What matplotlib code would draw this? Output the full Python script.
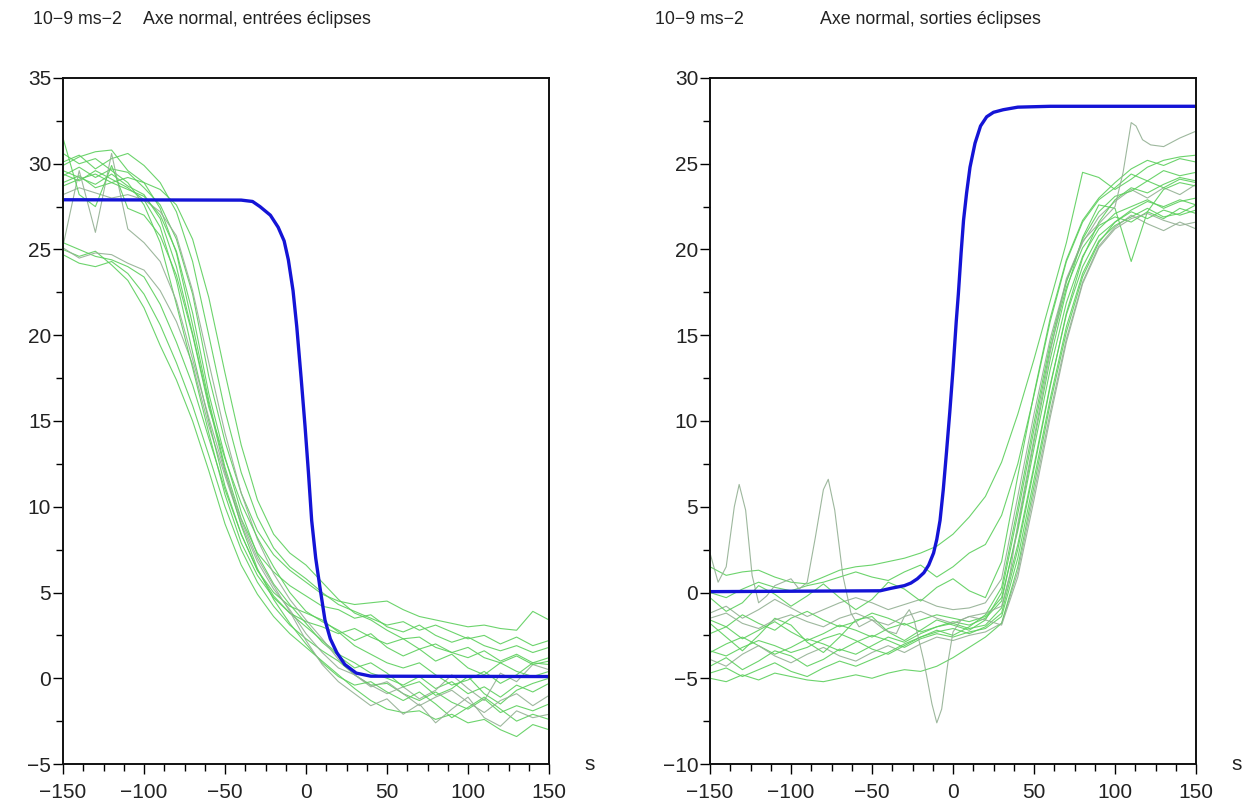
import matplotlib
matplotlib.use("Agg")
import matplotlib.pyplot as plt
from matplotlib.ticker import MultipleLocator

plt.rcParams['font.family'] = ['Liberation Sans', 'DejaVu Sans']

# ---------------- data ----------------
time_s = [-150, -140, -130, -120, -110, -100, -90, -80, -70, -60, -50, -40, -30, -20, -10,
          0, 10, 20, 30, 40, 50, 60, 70, 80, 90, 100, 110, 120, 130, 140, 150]

# Left panel: normal axis, eclipse entries (green measured curves)
left_la = [25.0, 24.6, 24.9, 24.1, 23.2, 21.6, 19.4, 17.4, 15.0, 12.1, 9.0, 6.6, 4.9, 3.6, 2.6,
           1.8, 1.0, 0.2, -0.6, -1.3, -1.8, -2.0, -1.9, -2.4, -2.1, -2.6, -2.4, -3.0, -3.4, -2.7, -3.0]
left_lb = [24.7, 24.2, 24.0, 24.3, 23.6, 22.4, 20.6, 18.4, 15.9, 13.0, 10.0, 7.5, 5.6, 4.2, 3.1,
           2.3, 1.6, 1.0, 0.2, -0.4, -0.3, -0.9, -1.3, -0.8, -1.4, -1.8, -1.2, -2.0, -1.6, -1.9, -1.5]
left_lc = [25.4, 25.0, 24.6, 24.4, 24.0, 23.4, 21.8, 19.6, 17.1, 14.0, 11.0, 8.4, 6.3, 4.8, 3.8,
           3.0, 2.2, 1.4, 0.9, 0.3, 0.0, -0.4, 0.1, -0.6, -0.2, -0.9, -0.5, -1.1, -0.4, -0.8, -0.3]
left_ld = [25.1, 24.5, 24.8, 24.7, 24.2, 23.8, 22.6, 20.8, 18.3, 14.7, 11.8, 9.0, 6.8, 5.2, 4.0,
           2.6, 1.5, 0.6, 0.2, -0.4, -0.9, -0.5, -1.2, -0.7, 0.2, -0.6, -1.3, 0.3, -0.2, 0.8, 0.5]
left_u1 = [30.6, 30.0, 30.3, 29.6, 28.9, 27.6, 25.4, 21.8, 18.1, 14.3, 10.7, 7.9, 6.0, 4.7, 3.8,
           3.3, 3.0, 2.6, 2.9, 2.4, 2.0, 2.3, 1.7, 2.0, 1.5, 1.2, 1.6, 1.0, 1.4, 0.9, 1.2]
left_u2 = [29.4, 29.0, 29.6, 29.1, 28.6, 27.9, 26.3, 23.2, 19.0, 15.0, 11.2, 8.4, 6.3, 5.0, 4.2,
           3.8, 3.4, 2.7, 1.9, 1.4, 0.9, 0.6, 0.9, 0.2, -0.4, -0.1, 0.4, -0.3, 0.2, 0.9, 0.8]
left_u3 = [29.9, 30.4, 30.7, 30.8, 29.6, 28.9, 27.4, 24.8, 20.6, 16.2, 12.3, 9.3, 7.3, 6.2, 5.4,
           4.8, 4.2, 4.0, 3.5, 3.7, 3.0, 2.7, 3.1, 2.5, 2.1, 2.4, 1.9, 1.6, 1.9, 1.5, 1.8]
left_u4 = [28.9, 29.3, 28.6, 28.9, 28.5, 28.1, 27.0, 24.9, 21.3, 16.6, 12.9, 9.7, 7.2, 5.5, 4.3,
           3.2, 2.1, 1.3, 0.6, 0.9, 0.3, -0.5, -0.2, -1.0, -0.6, 0.1, -0.9, -1.5, -0.7, -0.3, 0.0]
left_u5 = [29.3, 29.8, 29.2, 29.7, 29.5, 28.6, 27.6, 25.6, 22.4, 17.6, 13.8, 10.8, 8.6, 7.2, 6.3,
           5.6, 4.9, 4.5, 4.3, 4.4, 4.5, 4.0, 3.6, 3.4, 3.2, 3.0, 3.1, 2.9, 2.8, 3.9, 3.4]
left_u6 = [28.2, 28.6, 28.3, 28.0, 28.2, 27.9, 27.2, 25.8, 22.6, 18.4, 14.3, 10.8, 8.1, 6.1, 4.6,
           3.4, 2.3, 1.1, 0.2, -0.5, -0.2, -0.9, -1.6, -1.1, -0.7, -1.4, -2.0, -1.3, -0.9, -1.6, -1.0]
left_u7 = [30.1, 30.5, 29.7, 30.3, 30.6, 29.9, 28.9, 27.2, 24.3, 20.0, 15.6, 12.0, 9.4, 7.6, 6.5,
           5.8, 5.0, 4.3, 3.9, 3.5, 3.1, 3.3, 2.8, 3.1, 2.7, 2.3, 2.5, 2.0, 2.4, 1.9, 2.2]
left_u8 = [28.7, 29.1, 29.4, 28.9, 29.2, 28.9, 28.5, 27.6, 25.6, 22.2, 17.8, 13.6, 10.4, 8.4, 7.3,
           6.6, 5.6, 4.6, 3.8, 3.4, 2.8, 2.3, 2.4, 1.8, 1.5, 1.8, 1.2, 0.9, 1.3, 0.8, 1.0]
left_u9 = [29.6, 29.2, 28.8, 29.4, 28.7, 28.2, 26.8, 24.0, 20.1, 16.0, 12.1, 8.9, 6.4, 4.6, 3.2,
           2.0, 0.9, 0.1, -0.4, -0.2, -0.8, -1.3, -0.8, -1.5, -2.3, -1.7, -1.1, -1.8, -2.5, -2.1, -2.4]
left_o1 = [25.2, 29.6, 26.0, 30.6, 26.2, 25.4, 24.3, 22.0, 18.6, 15.2, 12.0, 9.2, 7.0, 5.4, 3.9,
           2.2, 0.8, -0.2, -0.9, -1.6, -1.2, -2.1, -1.5, -2.6, -1.8, -1.1, -2.3, -2.8, -1.9, -2.3, -2.1]
left_o2 = [31.5, 28.2, 27.5, 29.9, 27.4, 27.0, 25.8, 23.5, 20.0, 15.8, 12.8, 10.2, 8.2, 6.5, 5.0,
           3.9, 3.3, 2.8, 2.2, 2.6, 1.8, 1.3, 1.7, 1.0, 1.4, 0.6, 0.2, 0.9, 0.4, 0.1, 0.4]

# Left panel model (blue)
left_model_t = [-150, -40, -33, -28.4, -22, -17.2, -13.5, -10.9, -8, -5.7, -3, -0.6, 1.5, 3.5,
                6, 8.6, 11.7, 15, 19, 24, 31, 40, 150]
left_model_v = [27.9, 27.88, 27.8, 27.5, 27.0, 26.3, 25.5, 24.4, 22.6, 20.5, 17.5, 14.7, 12.0, 9.2,
                7.0, 5.3, 3.4, 2.3, 1.5, 0.8, 0.3, 0.12, 0.1]

# Right panel: normal axis, eclipse exits (green measured curves)
right_r01 = [1.5, 1.0, 1.2, 1.3, 0.9, 0.6, 0.5, 0.9, 1.3, 1.5, 1.6, 1.8, 2.0, 2.3, 2.7,
             3.4, 4.4, 5.6, 7.6, 10.4, 13.6, 17.0, 20.4, 24.5, 24.2, 23.5, 24.1, 24.8, 25.2, 25.4, 25.5]
right_r02 = [0.0, -0.3, 0.2, 0.6, 0.3, 0.1, 0.4, 0.6, 0.9, 1.2, 0.9, 0.7, 1.2, 1.6, 0.9,
             1.5, 2.3, 2.8, 4.5, 7.5, 11.5, 15.8, 19.3, 21.6, 22.9, 23.6, 24.4, 24.0, 24.6, 24.3, 24.5]
right_r03 = [-1.2, -0.8, -1.5, -1.0, -0.4, -0.9, -1.4, -1.0, -0.6, -0.3, -0.6, -1.0, -0.7, -0.4, -0.8,
             -1.0, -0.9, -0.6, 0.8, 5.6, 10.4, 14.8, 18.2, 20.4, 21.9, 22.8, 23.5, 23.0, 23.6, 23.2, 23.8]
right_r04 = [-1.6, -2.0, -1.3, -1.8, -2.2, -1.5, -1.1, -1.6, -2.0, -1.7, -1.2, -1.5, -1.9, -1.6, -1.3,
             -1.5, -1.7, -1.4, -0.3, 3.6, 8.4, 13.0, 16.9, 19.6, 21.2, 22.1, 22.5, 22.9, 22.4, 22.8, 23.0]
right_r05 = [-2.4, -2.0, -2.7, -2.2, -1.7, -2.3, -2.8, -2.4, -1.9, -2.2, -2.6, -2.1, -1.8, -2.3, -2.0,
             -1.8, -2.1, -1.9, -0.9, 2.8, 7.4, 12.1, 16.2, 19.0, 20.8, 21.6, 22.2, 21.8, 22.3, 22.0, 22.3]
right_r06 = [-3.5, -3.0, -2.6, -3.1, -3.6, -3.2, -2.7, -3.0, -3.4, -2.9, -2.5, -2.8, -3.2, -2.7, -2.4,
             -2.6, -2.3, -2.1, -1.4, 2.0, 6.6, 11.3, 15.5, 18.6, 20.5, 21.4, 21.9, 22.4, 21.9, 22.1, 22.6]
right_r07 = [-3.9, -4.3, -3.6, -3.1, -3.7, -4.1, -3.6, -3.2, -3.7, -4.0, -3.5, -3.1, -3.5, -3.0, -2.6,
             -2.8, -2.5, -2.3, -1.8, 1.2, 5.8, 10.5, 14.8, 18.1, 20.2, 21.3, 22.0, 21.5, 21.1, 21.6, 21.2]
right_r08 = [-4.7, -4.4, -4.9, -4.5, -4.1, -4.6, -4.9, -4.4, -4.0, -4.3, -3.9, -3.5, -3.0, -2.6, -2.3,
             -2.1, -2.4, -2.0, -1.2, 2.5, 7.2, 12.0, 16.3, 19.5, 21.6, 22.9, 23.6, 23.3, 23.8, 24.2, 24.0]
right_r09 = [-5.0, -5.2, -4.8, -5.1, -4.7, -4.9, -5.1, -5.2, -5.0, -4.8, -5.0, -4.7, -4.5, -4.6, -4.3,
             -3.8, -3.2, -2.6, -1.8, 1.5, 6.2, 11.0, 15.2, 18.4, 20.4, 21.6, 22.3, 22.8, 22.5, 22.9, 22.6]
right_r10 = [-0.3, -1.1, -0.6, 0.4, -0.1, -0.8, -0.2, 0.5, -0.3, -1.0, -0.4, 0.6, 0.2, -0.5, 0.3,
             0.8, 0.1, -0.3, 1.8, 6.8, 11.6, 16.0, 19.4, 21.7, 23.0, 23.9, 24.7, 25.2, 24.9, 25.3, 25.1]
right_r11 = [-1.8, -2.6, -3.4, -2.5, -1.5, -1.9, -2.9, -3.5, -2.6, -1.6, -1.4, -2.3, -2.8, -2.2, -1.6,
             -1.9, -2.2, -1.6, 0.0, 4.6, 9.5, 14.2, 17.8, 20.1, 21.4, 21.9, 21.6, 22.2, 21.8, 22.4, 22.1]
right_r12 = [-4.3, -3.8, -4.5, -4.0, -3.4, -3.7, -4.3, -3.9, -3.3, -3.6, -3.1, -2.6, -2.9, -2.4, -2.0,
             -1.7, -1.9, -1.5, -0.5, 3.8, 8.8, 13.6, 17.6, 20.7, 22.6, 22.4, 19.3, 22.2, 23.5, 23.9, 23.7]
right_r13 = [-1.5, -1.2, -1.8, -2.1, -1.6, -1.3, -1.7, -2.0, -1.5, -1.2, -1.6, -1.9, -1.4, -1.1, -1.5,
             -1.8, -1.4, -1.6, -1.9, 0.9, 5.4, 10.2, 14.6, 18.0, 20.1, 21.2, 21.8, 22.1, 21.7, 21.4, 21.6]
right_r14 = [-3.4, -3.7, -3.2, -2.8, -3.1, -3.5, -3.2, -2.7, -2.4, -2.8, -3.3, -3.6, -3.1, -2.6, -2.2,
             -2.5, -2.0, -1.3, 0.3, 5.0, 9.9, 14.5, 18.1, 20.6, 22.2, 23.1, 23.4, 24.0, 23.6, 24.1, 23.9]

# Right panel: the strongly oscillating curve (own time samples)
right_osc_t = [-150, -145, -140, -135, -132, -128, -124, -120, -115, -110, -100, -95, -90, -85, -80,
               -77, -73, -68, -63, -58, -50, -42, -35, -30, -27, -24, -18, -13, -10, -7, -3, 0,
               5, 10, 20, 30, 35, 40, 50, 60, 70, 80, 90, 100, 105, 110, 113, 117, 122, 130, 140, 150]
right_osc_v = [2.3, 0.6, 1.5, 5.0, 6.3, 4.8, 1.0, -0.6, -0.2, 0.4, 0.8, 0.2, 0.6, 3.2, 6.0,
               6.6, 4.8, 1.0, -1.2, -2.0, -1.6, -2.2, -2.4, -1.4, -1.0, -1.6, -4.0, -6.5, -7.6, -6.8, -4.0, -2.3,
               -1.6, -1.4, -1.2, -0.8, 1.0, 4.0, 9.0, 14.0, 18.3, 20.5, 21.5, 22.5, 24.5, 27.4, 27.2, 26.4, 26.1, 26.0, 26.5, 26.9]

# Right panel model (blue)
right_model_t = [-150, -45, -38, -30, -26, -22, -18, -15, -12, -10, -8, -6, -4, -2, 0, 2, 3.3,
                 5, 6.5, 8.4, 10.5, 13.6, 17, 20.8, 25, 31, 40, 60, 150]
right_model_v = [0.05, 0.1, 0.25, 0.4, 0.55, 0.8, 1.15, 1.6, 2.3, 3.1, 4.2, 6.0, 8.2, 10.5, 13.0,
                 15.8, 17.4, 19.8, 21.7, 23.3, 24.8, 26.2, 27.2, 27.74, 28.0, 28.15, 28.3, 28.35, 28.35]

left_curves = [left_la, left_lb, left_lc, left_ld, left_u1, left_u2, left_u3, left_u4,
               left_u5, left_u6, left_u7, left_u8, left_u9, left_o1, left_o2]
right_curves = [right_r01, right_r02, right_r03, right_r04, right_r05, right_r06, right_r07,
                right_r08, right_r09, right_r10, right_r11, right_r12, right_r13, right_r14]

unit_label = "10\u22129 ms\u22122"
left_title = "Axe normal, entrées éclipses"
right_title = "Axe normal, sorties éclipses"

# ---------------- drawing ----------------
W, H = 1243, 806
fig = plt.figure(figsize=(W / 100, H / 100), dpi=100)

green = '#5ccf5c'
grey_green = '#93b093'
blue = '#1414d6'
fs_tick = 15
fs_title = 12.8


def style_axes(ax, ylim):
    ax.set_xlim(-150, 150)
    ax.set_ylim(*ylim)
    ax.xaxis.set_major_locator(MultipleLocator(50))
    ax.xaxis.set_minor_locator(MultipleLocator(12.5))
    ax.yaxis.set_major_locator(MultipleLocator(5))
    ax.yaxis.set_minor_locator(MultipleLocator(2.5))
    ax.tick_params(which='both', direction='out', top=False, right=False, width=1.0,
                   color='black', labelsize=fs_tick, labelcolor='#222222')
    ax.tick_params(which='major', length=7)
    ax.tick_params(which='minor', length=5)
    ax.tick_params(axis='x', which='major', pad=7)
    ax.tick_params(axis='y', which='major', pad=1.5)
    for sp in ax.spines.values():
        sp.set_linewidth(1.4)
        sp.set_color('#111111')


ax1 = fig.add_axes([63 / W, 1 - 764 / H, 486 / W, 686 / H])
ax2 = fig.add_axes([710 / W, 1 - 764 / H, 486 / W, 686 / H])

for i, c in enumerate(left_curves):
    col = grey_green if i in (3, 9, 13) else green
    ax1.plot(time_s, c, color=col, lw=0.8, alpha=0.9)
ax1.plot(left_model_t, left_model_v, color=blue, lw=2.4, solid_capstyle='butt')
style_axes(ax1, (-5, 35))

for i, c in enumerate(right_curves):
    col = grey_green if i in (2, 6, 12) else green
    ax2.plot(time_s, c, color=col, lw=0.8, alpha=0.9)
ax2.plot(right_osc_t, right_osc_v, color=grey_green, lw=0.8, alpha=0.9)
ax2.plot(right_model_t, right_model_v, color=blue, lw=2.4, solid_capstyle='butt')
style_axes(ax2, (-10, 30))

ty = 1 - 19 / H
fig.text(33 / W, ty, unit_label, fontsize=fs_title, va='center', ha='left', color='#222222')
fig.text(143 / W, ty, left_title, fontsize=fs_title, va='center', ha='left', color='#222222')
fig.text(655 / W, ty, unit_label, fontsize=fs_title, va='center', ha='left', color='#222222')
fig.text(820 / W, ty, right_title, fontsize=fs_title, va='center', ha='left', color='#222222')

fig.text(590 / W, 1 - 765 / H, "s", fontsize=fs_tick, va='center', ha='center', color='#222222')
fig.text(1237 / W, 1 - 765 / H, "s", fontsize=fs_tick, va='center', ha='center', color='#222222')

fig.savefig("out.png", dpi=100, facecolor='white')
